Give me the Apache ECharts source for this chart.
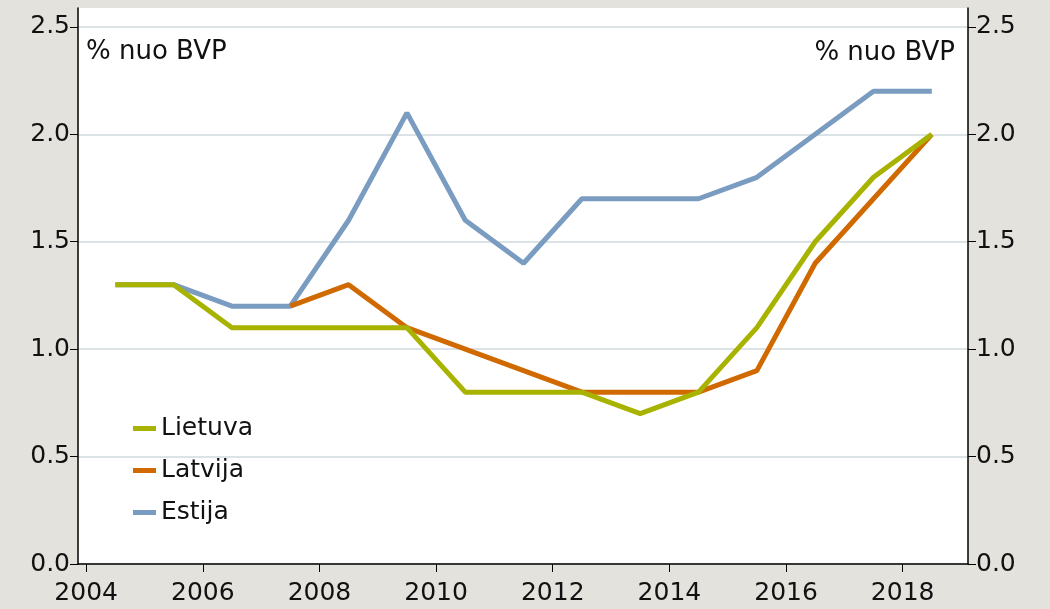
<!DOCTYPE html>
<html>
<head>
<meta charset="utf-8">
<script src="https://cdn.jsdelivr.net/npm/echarts@6/dist/echarts.min.js"></script>
<style>
  html, body { margin: 0; padding: 0; background: #e4e2dd; }
  #chart { width: 1050px; height: 609px; }
</style>
</head>
<body>
<div id="chart"></div>
<script>
// mid-year points
var years = [2004.5, 2005.5, 2006.5, 2007.5, 2008.5, 2009.5, 2010.5, 2011.5, 2012.5, 2013.5, 2014.5, 2015.5, 2016.5, 2017.5, 2018.5]
var lietuva = [1.3, 1.3, 1.1, 1.1, 1.1, 1.1, 0.8, 0.8, 0.8, 0.7, 0.8, 1.1, 1.5, 1.8, 2.0]
var latvija = [null, null, null, 1.2, 1.3, 1.1, 1.0, 0.9, 0.8, 0.8, 0.8, 0.9, 1.4, 1.7, 2.0]
var estija = [1.3, 1.3, 1.2, 1.2, 1.6, 2.1, 1.6, 1.4, 1.7, 1.7, 1.7, 1.8, 2.0, 2.2, 2.2]
var xTicks = [2004, 2006, 2008, 2010, 2012, 2014, 2016, 2018]
var unitLabel = '% nuo BVP'

function pairs (vals) {
  return vals.map(function (v, i) { return [years[i], v] })
}

var font = 'DejaVu Sans'
var yAxisCommon = {
  type: 'value',
  min: 0,
  max: 2.588,
  interval: 0.5,
  axisLine: { show: true, lineStyle: { color: '#000', width: 1.5 } },
  axisTick: { show: true, length: 8, lineStyle: { color: '#000', width: 1 } },
  axisLabel: {
    color: '#111', fontFamily: font, fontSize: 25, margin: 8,
    showMaxLabel: false,
    formatter: function (v) { return v.toFixed(1) }
  }
}

var chart = echarts.init(document.getElementById('chart'))
chart.setOption({
  backgroundColor: '#e4e2dd',
  animation: false,
  grid: { left: 78, right: 82, top: 8, bottom: 45, show: true, backgroundColor: '#fff', borderWidth: 0 },
  legend: {
    orient: 'vertical',
    left: 128,
    top: 411,
    itemGap: 17,
    icon: 'rect',
    itemWidth: 23,
    itemHeight: 5,
    textStyle: { fontFamily: font, fontSize: 25, color: '#111' },
    data: ['Lietuva', 'Latvija', 'Estija']
  },
  graphic: [
    { type: 'text', left: 86, top: 39, style: { text: unitLabel, fontFamily: font, fontSize: 26, fill: '#111' } },
    { type: 'text', right: 95, top: 40, style: { text: unitLabel, fontFamily: font, fontSize: 26, fill: '#111' } }
  ],
  xAxis: {
    type: 'value',
    min: 2003.86,
    max: 2019.12,
    splitLine: { show: false },
    axisLine: { show: true, onZero: false, lineStyle: { color: '#000', width: 1.5 } },
    axisTick: { show: true, length: 8, customValues: xTicks, lineStyle: { color: '#000' } },
    axisLabel: {
      customValues: xTicks, color: '#111', fontFamily: font, fontSize: 25, margin: 17,
      formatter: function (v) { return String(v) }
    }
  },
  yAxis: [
    Object.assign({}, yAxisCommon, {
      position: 'left',
      splitLine: { show: true, showMaxLine: false, lineStyle: { color: '#cfdadf', width: 1.5 } }
    }),
    Object.assign({}, yAxisCommon, {
      position: 'right',
      splitLine: { show: false }
    })
  ],
  series: [
    { name: 'Estija', type: 'line', data: pairs(estija), symbol: 'none', z: 2,
      lineStyle: { color: '#7a9cc0', width: 5 }, itemStyle: { color: '#7a9cc0' } },
    { name: 'Latvija', type: 'line', data: pairs(latvija), symbol: 'none', z: 3,
      lineStyle: { color: '#d06a00', width: 5 }, itemStyle: { color: '#d06a00' } },
    { name: 'Lietuva', type: 'line', data: pairs(lietuva), symbol: 'none', z: 4,
      lineStyle: { color: '#a8b300', width: 5 }, itemStyle: { color: '#a8b300' } }
  ]
})
</script>
</body>
</html>
